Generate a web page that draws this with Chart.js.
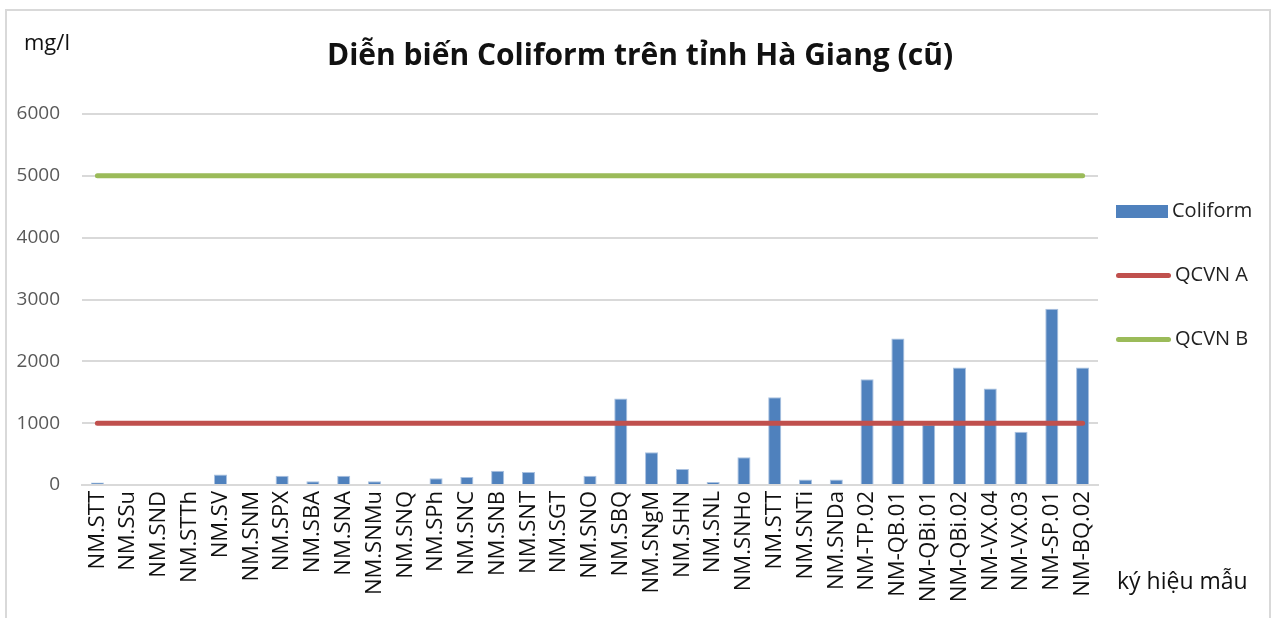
<!DOCTYPE html>
<html lang="vi">
<head>
<meta charset="utf-8">
<title>Diễn biến Coliform trên tỉnh Hà Giang (cũ)</title>
<script src="https://cdn.jsdelivr.net/npm/chart.js@4.4.1/dist/chart.umd.min.js"></script>
<style>
  html, body { margin: 0; padding: 0; background: #fff; }
  #wrap { position: relative; width: 1280px; height: 618px; }
  #frame {
    position: absolute; left: 5px; top: 9px; width: 1266px; height: 620px;
    border: 2px solid #d9d9d9; box-sizing: border-box;
  }
  canvas { position: absolute; left: 0; top: 0; }
  .legend { position: absolute; left: 1116px; font: 20px "Open Sans", sans-serif; color: #222; }
  .legend .key { display: inline-block; vertical-align: middle; margin-right: 4px; }
</style>
</head>
<body>
<div id="wrap">
  <div id="frame"></div>
  <canvas id="chart" width="1280" height="618"></canvas>
  <div class="legend" style="top:196px"><span class="key" style="width:52px;height:13px;background:#4f81bd"></span>Coliform</div>
  <div class="legend" style="top:260px"><span class="key" style="width:55px;height:5px;border-radius:3px;background:#c0504d"></span>QCVN A</div>
  <div class="legend" style="top:324px"><span class="key" style="width:55px;height:5px;border-radius:3px;background:#9bbb59"></span>QCVN B</div>
</div>
<script>
'use strict';

const CATEGORIES = [
  'NM.STT', 'NM.SSu', 'NM.SND', 'NM.STTh', 'NM.SV', 'NM.SNM', 'NM.SPX', 'NM.SBA',
  'NM.SNA', 'NM.SNMu', 'NM.SNQ', 'NM.SPh', 'NM.SNC', 'NM.SNB', 'NM.SNT', 'NM.SGT',
  'NM.SNO', 'NM.SBQ', 'NM.SNgM', 'NM.SHN', 'NM.SNL', 'NM.SNHo', 'NM.STT', 'NM.SNTi',
  'NM.SNDa', 'NM-TP.02', 'NM-QB.01', 'NM-QBi.01', 'NM-QBi.02', 'NM-VX.04', 'NM-VX.03',
  'NM-SP.01', 'NM-BQ.02',
];

const COLIFORM = [
  40, 0, 0, 0, 170, 0, 150, 60,
  150, 60, 0, 110, 130, 230, 210, 0,
  150, 1400, 530, 260, 50, 450, 1420, 90,
  90, 1710, 2370, 980, 1900, 1560, 860,
  2850, 1900,
];

const QCVN_A = CATEGORIES.map(() => 1000);
const QCVN_B = CATEGORIES.map(() => 5000);

const Y_TICKS = [0, 1000, 2000, 3000, 4000, 5000, 6000];

const FONT = '"Open Sans", sans-serif';

const textPlugin = {
  id: 'texts',
  afterDraw(chart) {
    const ctx = chart.ctx;
    ctx.save();
    ctx.fillStyle = '#111';
    ctx.textBaseline = 'middle';
    ctx.font = '22px ' + FONT;
    ctx.textAlign = 'left';
    ctx.fillText('mg/l', 24, 44);
    ctx.font = '23px ' + FONT;
    ctx.fillText('ký hiệu mẫu', 1117, 582);
    ctx.font = 'bold 30px ' + FONT;
    ctx.textAlign = 'center';
    ctx.fillText('Diễn biến Coliform trên tỉnh Hà Giang (cũ)', 640, 56);
    ctx.restore();
  },
};

new Chart(document.getElementById('chart'), {
  data: {
    labels: CATEGORIES,
    datasets: [
      {
        type: 'line',
        label: 'QCVN B',
        data: QCVN_B,
        borderColor: '#9bbb59',
        borderWidth: 5,
        borderCapStyle: 'round',
        pointRadius: 0,
        order: 0,
      },
      {
        type: 'line',
        label: 'QCVN A',
        data: QCVN_A,
        borderColor: '#c0504d',
        borderWidth: 5,
        borderCapStyle: 'round',
        pointRadius: 0,
        order: 0,
      },
      {
        type: 'bar',
        label: 'Coliform',
        data: COLIFORM,
        backgroundColor: '#4f81bd',
        borderColor: '#a9c1e0',
        borderWidth: 1,
        categoryPercentage: 0.85,
        barPercentage: 0.5,
        order: 1,
      },
    ],
  },
  options: {
    responsive: false,
    animation: false,
    layout: { padding: { left: 0, right: 182, top: 114, bottom: 0 } },
    plugins: {
      legend: { display: false },
      tooltip: { enabled: false },
    },
    scales: {
      x: {
        grid: { display: false, drawTicks: false },
        border: { color: '#d9d9d9', width: 2 },
        ticks: {
          color: '#111',
          font: { family: FONT, size: 22 },
          maxRotation: 90,
          minRotation: 90,
          autoSkip: false,
          padding: 6,
        },
        afterFit(scale) { scale.height = 133; },
      },
      y: {
        min: 0,
        max: 6000,
        afterBuildTicks(scale) { scale.ticks = Y_TICKS.map(v => ({ value: v })); },
        grid: { color: '#d9d9d9', lineWidth: 2, drawTicks: false },
        border: { display: false },
        ticks: {
          color: '#595959',
          font: { family: FONT, size: 19 },
          padding: 22,
          callback: v => String(v),
        },
        afterFit(scale) { scale.width = 82; },
      },
    },
  },
  plugins: [textPlugin],
});
</script>
</body>
</html>
